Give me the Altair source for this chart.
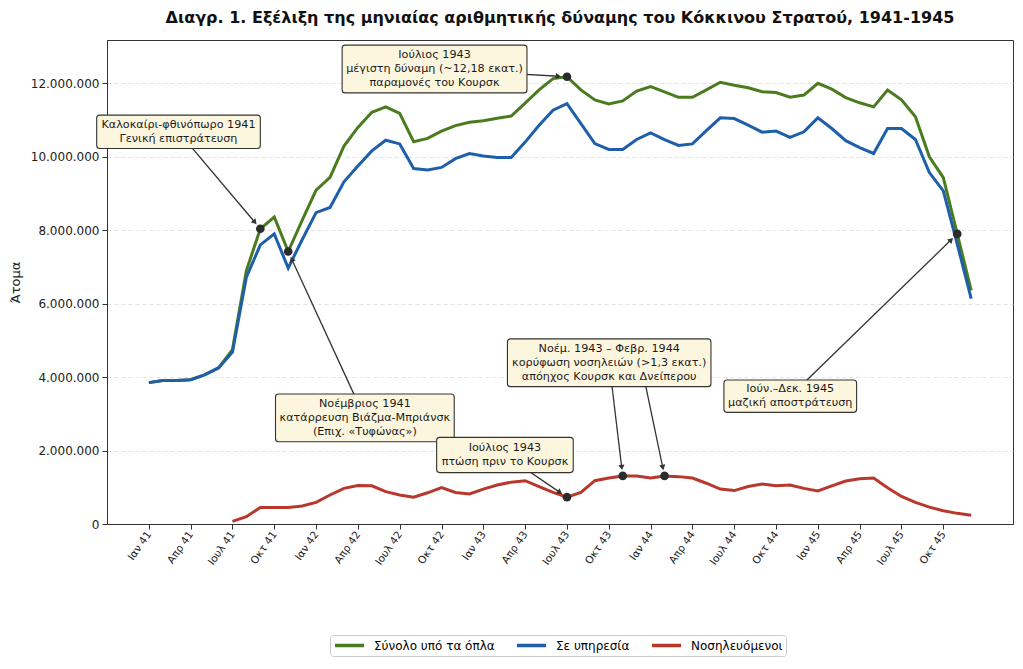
import math
import altair as alt
import pandas as pd

# ---------------- data ----------------
tick_labels = ["Ιαν 41", "Απρ 41", "Ιουλ 41", "Οκτ 41",
               "Ιαν 42", "Απρ 42", "Ιουλ 42", "Οκτ 42",
               "Ιαν 43", "Απρ 43", "Ιουλ 43", "Οκτ 43",
               "Ιαν 44", "Απρ 44", "Ιουλ 44", "Οκτ 44",
               "Ιαν 45", "Απρ 45", "Ιουλ 45", "Οκτ 45"]

series_names = ["Σύνολο υπό τα όπλα", "Σε υπηρεσία", "Νοσηλευόμενοι"]
series_colors = ["#4a7c1f", "#1f5fa9", "#b8382d"]

# monthly values, millions, Jan 1941 .. Dec 1945
total = [3.85, 3.91, 3.91, 3.93, 4.06, 4.25, 4.75, 6.90, 8.04, 8.36,
         7.42, 8.27, 9.09, 9.44, 10.29, 10.80, 11.21, 11.36, 11.18, 10.41,
         10.50, 10.70, 10.85, 10.94, 10.98, 11.05, 11.11, 11.46, 11.82, 12.13,
         12.18, 11.82, 11.55, 11.44, 11.52, 11.79, 11.91, 11.77, 11.62, 11.62,
         11.82, 12.03, 11.95, 11.88, 11.77, 11.75, 11.62, 11.68, 12.00, 11.84,
         11.61, 11.47, 11.36, 11.82, 11.55, 11.09, 10.00, 9.43, 7.90, 6.36]

in_service = [3.85, 3.91, 3.91, 3.93, 4.06, 4.25, 4.68, 6.72, 7.60, 7.90,
              6.97, 7.74, 8.48, 8.62, 9.32, 9.75, 10.16, 10.45, 10.35, 9.68,
              9.64, 9.71, 9.95, 10.09, 10.02, 9.98, 9.98, 10.40, 10.86, 11.27,
              11.45, 10.90, 10.36, 10.20, 10.20, 10.47, 10.65, 10.47, 10.31, 10.35,
              10.71, 11.06, 11.04, 10.86, 10.67, 10.70, 10.53, 10.68, 11.06, 10.77,
              10.44, 10.25, 10.09, 10.77, 10.77, 10.47, 9.57, 9.07, 7.62, 6.14]

hospital = [None, None, None, None, None, None,
            0.07, 0.20, 0.45, 0.45, 0.45, 0.49, 0.59, 0.79, 0.97, 1.05,
            1.04, 0.88, 0.79, 0.73, 0.85, 0.99, 0.86, 0.82, 0.95, 1.06,
            1.14, 1.18, 1.02, 0.86, 0.73, 0.86, 1.18, 1.25, 1.31, 1.31,
            1.25, 1.31, 1.29, 1.25, 1.11, 0.95, 0.91, 1.02, 1.09, 1.04,
            1.06, 0.97, 0.90, 1.04, 1.17, 1.23, 1.25, 0.99, 0.75, 0.59,
            0.46, 0.36, 0.29, 0.24]

# annotations: text, text centre (month, millions), box half-size (months, millions)
ann_text = ["Καλοκαίρι-φθινόπωρο 1941\nΓενική επιστράτευση",
            "Νοέμβριος 1941\nκατάρρευση Βιάζμα-Μπριάνσκ\n(Επιχ. «Τυφώνας»)",
            "Ιούλιος 1943\nμέγιστη δύναμη (~12,18 εκατ.)\nπαραμονές του Κουρσκ",
            "Ιούλιος 1943\nπτώση πριν το Κουρσκ",
            "Νοέμ. 1943 – Φεβρ. 1944\nκορύφωση νοσηλειών (>1,3 εκατ.)\nαπόηχος Κουρσκ και Δνείπερου",
            "Ιούν.–Δεκ. 1945\nμαζική αποστράτευση"]
ann_m = [2.13, 15.50, 20.50, 25.55, 33.03, 46.02]
ann_v = [10.68, 2.89, 12.39, 1.88, 4.39, 3.48]
ann_hm = [5.87, 6.41, 6.63, 4.90, 7.30, 4.76]
ann_hv = [0.455, 0.65, 0.65, 0.48, 0.65, 0.44]

# arrows: start (month, millions) -> target point (month, millions)
arr_m0 = [2.13, 15.50, 20.50, 25.55, 33.03, 35.66, 46.02]
arr_v0 = [10.68, 2.89, 12.39, 1.88, 4.39, 3.74, 3.48]
arr_m1 = [8, 10, 30, 30, 34, 37, 58]
arr_v1 = [8.04, 7.42, 12.18, 0.73, 1.31, 1.31, 7.90]

# ---------------- layout ----------------
W, H = 906, 484
X_MIN, X_MAX = -3, 62
Y_MIN, Y_MAX = 0, 13.18e6
PXM = W / (X_MAX - X_MIN)
PXV = H / (Y_MAX - Y_MIN)
FONT = "DejaVu Sans"
LINE_H = 14.2
M = 1e6

rows = []
for name, vals in zip(series_names, [total, in_service, hospital]):
    for i, v in enumerate(vals):
        if v is not None:
            rows.append({"m": i, "v": v * M, "series": name})
lines_df = pd.DataFrame(rows)

box_df = pd.DataFrame({
    "bx": [a - b for a, b in zip(ann_m, ann_hm)],
    "bx2": [a + b for a, b in zip(ann_m, ann_hm)],
    "by": [(a - b) * M for a, b in zip(ann_v, ann_hv)],
    "by2": [(a + b) * M for a, b in zip(ann_v, ann_hv)],
})

# one text datum per line, stacked around the annotation centre
trows = []
for txt, m, v in zip(ann_text, ann_m, ann_v):
    parts = txt.split("\n")
    n = len(parts)
    for k, p in enumerate(parts):
        off_px = ((n - 1) / 2 - k) * LINE_H
        trows.append({"m": m, "v": v * M + off_px / PXV, "text": p})
text_df = pd.DataFrame(trows)

arows = []
for m0, v0, m1, v1 in zip(arr_m0, arr_v0, arr_m1, arr_v1):
    dx = (m1 - m0) * PXM
    dy = -(v1 - v0) * M * PXV
    L = math.hypot(dx, dy)
    ux, uy = dx / L, dy / L
    hm = m1 - 8.5 * ux / PXM
    hv = v1 * M + 8.5 * uy / PXV
    ang = math.degrees(math.atan2(ux, -uy)) % 360
    arows.append({"m": m0, "v": v0 * M, "m2": hm, "v2": hv,
                  "hm": hm, "hv": hv, "ang": ang})
arr_df = pd.DataFrame(arows)

pts_df = pd.DataFrame({"m": arr_m1, "v": [v * M for v in arr_v1]})

label_expr = "[" + ",".join("'" + t + "'" for t in tick_labels) + "][round(datum.value/3)]"

xs = alt.Scale(domain=[X_MIN, X_MAX], nice=False, zero=False)
ys = alt.Scale(domain=[Y_MIN, Y_MAX], nice=False, zero=False)

X = alt.X("m:Q", scale=xs, axis=alt.Axis(
    values=list(range(0, 58, 3)), labelExpr=label_expr, title=None, grid=False,
    labelAngle=-55, labelFontSize=10.5, tickSize=5, labelPadding=3))
Y = alt.Y("v:Q", scale=ys, axis=alt.Axis(
    values=[i * 2e6 for i in range(7)],
    labelExpr="replace(format(datum.value, ','), regexp(',', 'g'), '.')",
    title="Άτομα", titleFontSize=13, titleFontWeight="normal", titlePadding=8,
    grid=True, gridDash=[4, 3], gridColor="#dcdcdc", gridWidth=0.8,
    labelFontSize=12, tickSize=5, labelPadding=3))

lines = alt.Chart(lines_df).mark_line(strokeWidth=3).encode(
    x=X, y=Y,
    color=alt.Color("series:N", sort=series_names,
                    scale=alt.Scale(domain=series_names, range=series_colors),
                    legend=alt.Legend(orient="none", legendX=223, legendY=595,
                                      direction="horizontal", columns=3, title=None,
                                      symbolType="stroke", symbolStrokeWidth=3.5,
                                      symbolSize=841, clipHeight=15,
                                      labelFontSize=12, labelFont=FONT, labelOffset=8,
                                      columnPadding=20, padding=3,
                                      fillColor="white", strokeColor="#cccccc",
                                      cornerRadius=3)),
    detail="series:N",
)

rules = alt.Chart(arr_df).mark_rule(color="#333333", strokeWidth=1.3).encode(
    x=X, y=Y, x2="m2:Q", y2="v2:Q")

heads = alt.Chart(arr_df).mark_point(shape="triangle-up", filled=True, size=38,
                                     color="#333333", opacity=1).encode(
    x=alt.X("hm:Q", scale=xs), y=alt.Y("hv:Q", scale=ys), angle=alt.Angle("ang:Q", scale=None))

dots = alt.Chart(pts_df).mark_circle(size=75, color="#2b2b2b", opacity=1).encode(x=X, y=Y)

boxes = alt.Chart(box_df).mark_rect(fill="#fcf6df", stroke="#333333", strokeWidth=1.1,
                                    cornerRadius=3).encode(
    x=alt.X("bx:Q", scale=xs), x2="bx2:Q", y=alt.Y("by:Q", scale=ys), y2="by2:Q")

texts = alt.Chart(text_df).mark_text(font=FONT, fontSize=11.2, color="#1a1a1a",
                                     align="center", baseline="middle").encode(
    x=X, y=Y, text="text:N")

chart = alt.layer(lines, rules, heads, dots, boxes, texts).properties(
    width=W, height=H,
    title=alt.Title("Διαγρ. 1. Εξέλιξη της μηνιαίας αριθμητικής δύναμης του Κόκκινου Στρατού, 1941-1945",
                    font=FONT, fontSize=16, fontWeight="bold", anchor="middle",
                    offset=14, color="#111111"),
    autosize=alt.AutoSizeParams(type="none"),
    padding={"left": 99, "top": 32, "right": 1, "bottom": 133},
).configure(font=FONT, background="white").configure_view(
    stroke="#333333", strokeWidth=1
).configure_axis(
    labelFont=FONT, titleFont=FONT, domainColor="#333333", tickColor="#333333",
    labelColor="#222222", titleColor="#222222", domainWidth=1
)

chart.save("out.html", embed_options={"renderer": "svg", "actions": False})
